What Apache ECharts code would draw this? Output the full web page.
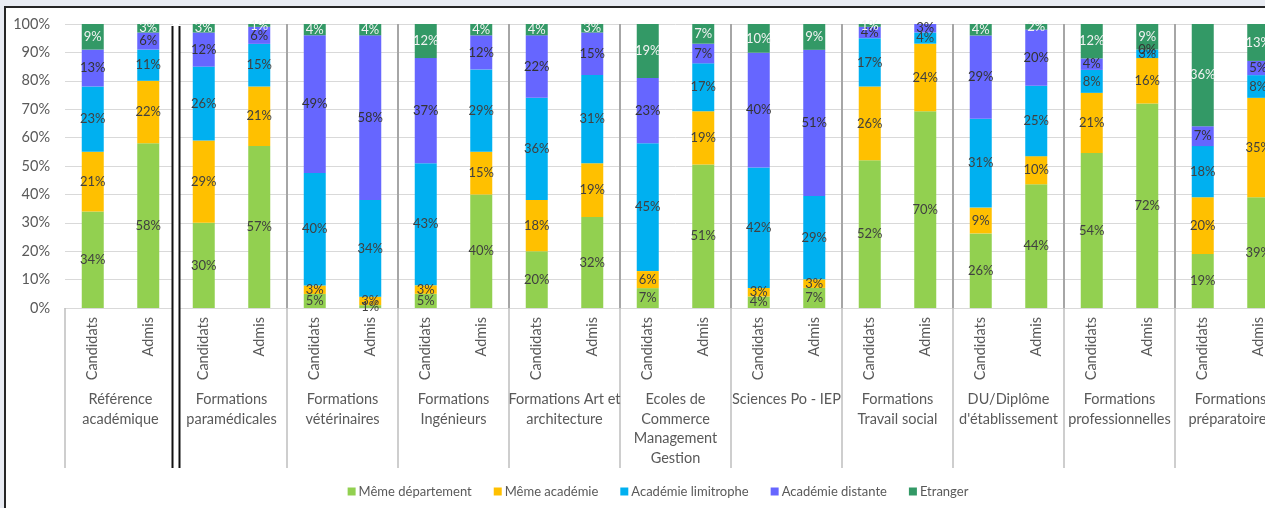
<!DOCTYPE html>
<html>
<head>
<meta charset="utf-8">
<script src="https://cdn.jsdelivr.net/npm/echarts@6/dist/echarts.min.js"></script>
<style>
  html, body { margin: 0; padding: 0; width: 1265px; height: 508px; overflow: hidden; background: #e9ecf3; }
  #frame { position: absolute; left: 4px; top: 6px; width: 1400px; height: 600px; background: #ffffff;
           border-left: 2px solid #262626; border-top: 2px solid #262626; }
  #chart { position: absolute; left: 0; top: 0; width: 1316px; height: 508px; }
</style>
</head>
<body>
<div id="frame"></div>
<div id="chart"></div>
<script>
// ---- Data ----
const barLabels = ['Candidats', 'Admis'];
const groups = [
  'Référence\nacadémique',
  'Formations\nparamédicales',
  'Formations\nvétérinaires',
  'Formations\nIngénieurs',
  'Formations Art et\narchitecture',
  'Ecoles de\nCommerce\nManagement\nGestion',
  'Sciences Po - IEP',
  'Formations\nTravail social',
  'DU/Diplôme\nd\'établissement',
  'Formations\nprofessionnelles',
  'Formations\npréparatoires'
];
const seriesNames = ['Même département', 'Même académie', 'Académie limitrophe', 'Académie distante', 'Etranger'];
const memeDepartement   = [34,58, 30,57, 5,1,   5,40, 20,32, 7,51,  4,7,   52,70, 26,44, 54,72, 19,39];
const memeAcademie      = [21,22, 29,21, 3,3,   3,15, 18,19, 6,19,  3,3,   26,24, 9,10,  21,16, 20,35];
const academieLimitrophe= [23,11, 26,15, 40,34, 43,29, 36,31, 45,17, 42,29, 17,4,  31,25, 8,3,   18,8];
const academieDistante  = [13,6,  12,6,  49,58, 37,12, 22,15, 23,7,  40,51, 4,3,   29,20, 4,0,   7,5];
const etranger          = [9,3,   3,1,   4,4,   12,4,  4,3,   19,7,  10,9,  1,0,   4,2,   12,9,  36,13];
const yTicks = [0, 10, 20, 30, 40, 50, 60, 70, 80, 90, 100];

const colors = ['#92D050', '#FFC000', '#00B0F0', '#6666FF', '#339966'];
const labelColors = ['#404040', '#404040', '#404040', '#333333', '#F2F2F2'];
const values = [memeDepartement, memeAcademie, academieLimitrophe, academieDistante, etranger];

const xCats = [];
groups.forEach(() => barLabels.forEach(b => xCats.push(b)));
const totals = xCats.map((_, i) => values.reduce((s, arr) => s + arr[i], 0));

const FONT = 'Lato';
const chart = echarts.init(document.getElementById('chart'), null, { renderer: 'canvas' });

const series = values.map((arr, k) => ({
  name: seriesNames[k],
  type: 'bar',
  stack: 'total',
  barWidth: 22,
  xAxisIndex: 0,
  itemStyle: { color: colors[k] },
  label: {
    show: true,
    position: 'inside',
    fontFamily: FONT,
    fontSize: 13,
    color: labelColors[k],
    formatter: p => arr[p.dataIndex] + '%'
  },
  data: arr.map((v, i) => v / totals[i] * 100)
}));

chart.setOption({
  animation: false,
  backgroundColor: 'transparent',
  textStyle: { fontFamily: FONT },
  color: colors,
  legend: {
    data: seriesNames,
    left: 'center',
    top: 480,
    icon: 'rect',
    itemWidth: 8,
    itemHeight: 8,
    itemGap: 22,
    textStyle: { fontFamily: FONT, fontSize: 13, color: '#595959', padding: [0, 0, 0, -2] }
  },
  grid: { left: 65, top: 24, width: 1221, height: 284 },
  xAxis: [
    {
      type: 'category',
      data: xCats,
      position: 'bottom',
      axisLine: { show: true, lineStyle: { color: '#d9d9d9', width: 1 } },
      axisTick: { show: false },
      axisLabel: { interval: 0, rotate: 90, margin: 9, fontFamily: FONT, fontSize: 14.5, color: '#595959' },
      splitLine: { show: false }
    },
    {
      type: 'category',
      data: groups,
      position: 'bottom',
      axisLine: { show: false },
      axisTick: { show: true, length: 160, lineStyle: { color: '#bfbfbf', width: 1.5 } },
      axisLabel: { interval: 0, margin: 82, fontFamily: FONT, fontSize: 14.5, lineHeight: 19.5, color: '#595959' },
      splitLine: { show: true, showMinLine: false, lineStyle: { color: '#a6a6a6', width: 2 } }
    }
  ],
  yAxis: {
    type: 'value',
    min: 0,
    max: 100,
    interval: 10,
    axisLine: { show: false },
    axisTick: { show: false },
    axisLabel: { fontFamily: FONT, fontSize: 14.5, color: '#595959', margin: 15, formatter: v => yTicks.includes(v) ? v + '%' : '' },
    splitLine: { lineStyle: { color: '#d9d9d9', width: 1 } }
  },
  series: series
});

// double black separator after the reference group (positions from the axis scale)
const x0 = chart.convertToPixel({ xAxisIndex: 1 }, 0);
const x1 = chart.convertToPixel({ xAxisIndex: 1 }, 1);
const bx = (x0 + x1) / 2;
const yTop = chart.convertToPixel({ yAxisIndex: 0 }, 100) + 2;
const yBot = chart.convertToPixel({ yAxisIndex: 0 }, 0) + 160;
chart.setOption({
  graphic: [
    { type: 'rect', z: 100, shape: { x: bx - 3, y: yTop - 2, width: 6, height: yBot - yTop + 2 }, style: { fill: '#ffffff' } },
    { type: 'line', z: 101, shape: { x1: bx - 3.5, y1: yTop, x2: bx - 3.5, y2: yBot }, style: { stroke: '#111111', lineWidth: 2 } },
    { type: 'line', z: 101, shape: { x1: bx + 3.5, y1: yTop, x2: bx + 3.5, y2: yBot }, style: { stroke: '#111111', lineWidth: 2 } }
  ]
});
</script>
</body>
</html>
